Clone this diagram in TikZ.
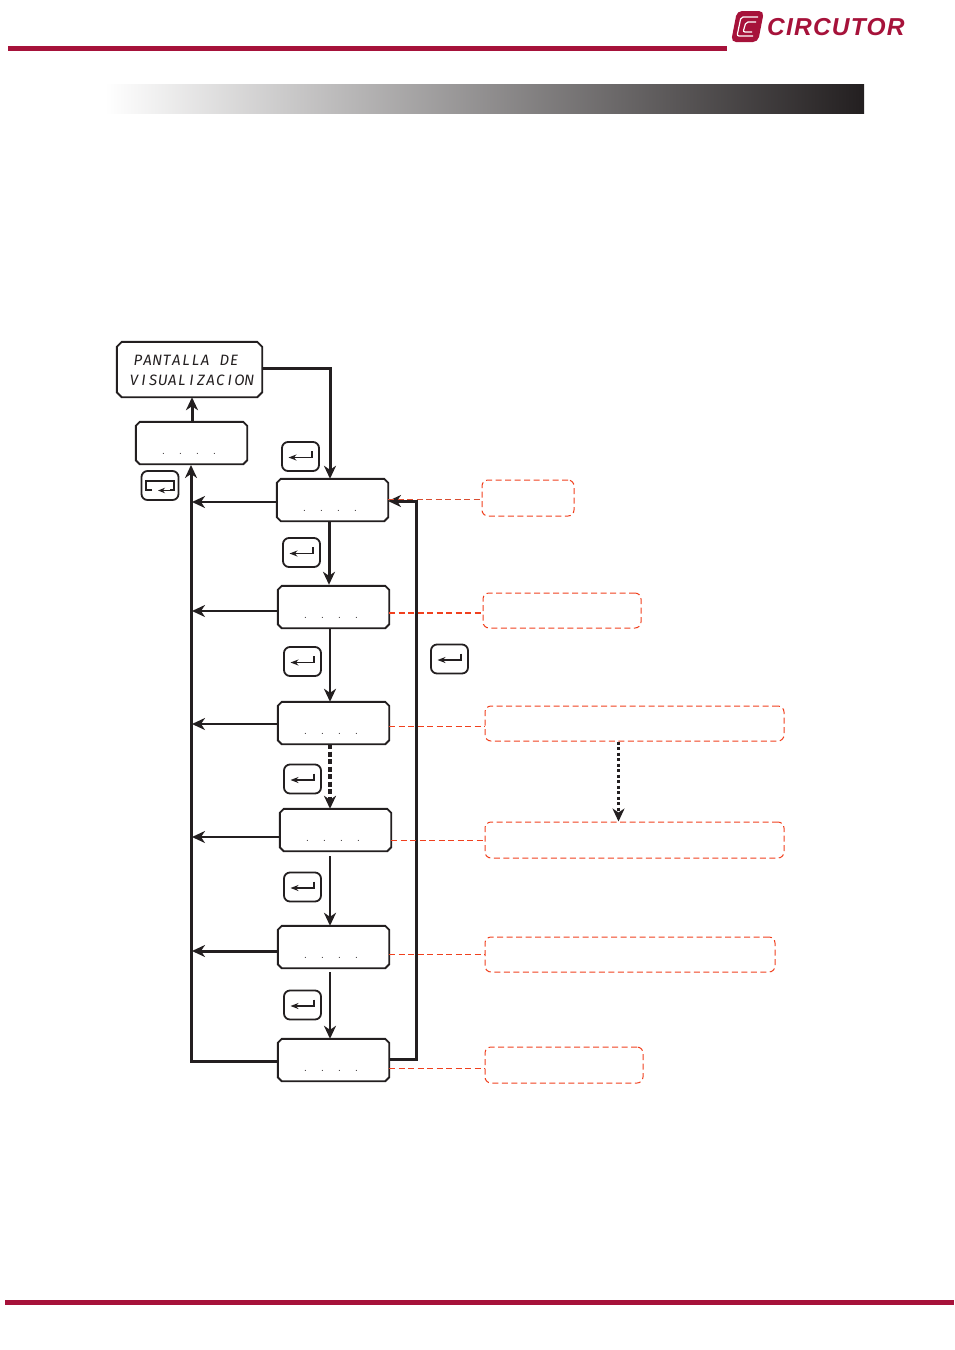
\documentclass[tikz,border=0pt]{standalone}
\usepackage{fontspec}
\setmainfont{Liberation Sans}
\newfontfamily\lcdfont{Fira Sans Italic}
\newfontfamily\logofont[LetterSpace=5]{Liberation Sans}
\usetikzlibrary{arrows.meta,calc}
\definecolor{brand}{HTML}{A6123A}
\definecolor{ink}{HTML}{231F20}
\definecolor{dash}{HTML}{F0401E}
\newcommand{\lc}[1]{\makebox[9.6pt]{#1}}
\tikzset{
  x=1pt,y=-1pt,
  tip/.style={-{Stealth[length=13pt,width=12pt,inset=4pt]}},
  dbox/.style={inner sep=0pt,minimum width=111pt,minimum height=42pt},
  keybox/.style={draw=ink,line width=1.8pt,fill=white,rounded corners=6pt,inner sep=0pt,minimum width=37pt,minimum height=29pt},
  redbox/.style={draw=dash,line width=1pt,dash pattern=on 6pt off 3.5pt,rounded corners=6pt,inner sep=0pt},
  flow/.style={draw=ink,line width=3pt,tip},
  thinflow/.style={draw=ink,line width=2.2pt,tip},
  bus/.style={draw=ink,line width=3pt},
  link/.style={draw=dash,line width=1.2pt,dash pattern=on 6pt off 3.5pt},
  dots/.style={font=\fontsize{10}{10}\selectfont,text=ink!90,inner sep=0pt},
}
\newcommand{\chamf}[2]{%
  \draw[ink,line width=1.9pt,fill=white]
    ([xshift=#2pt]#1.north west) -- ([xshift=-#2pt]#1.north east) -- ([yshift=-#2pt]#1.north east)
    -- ([yshift=#2pt]#1.south east) -- ([xshift=-#2pt]#1.south east) -- ([xshift=#2pt]#1.south west)
    -- ([yshift=#2pt]#1.south west) -- ([yshift=-#2pt]#1.north west) -- cycle;
}
\newcommand{\dispbox}[3]{%
  \node[dbox] (#1) at (#2,#3) {};
  \chamf{#1}{4}
  \node[dots] (#1d) at (#2-2.5,#3+11) {.\hspace{14.2pt}.\hspace{14.2pt}.\hspace{14.2pt}.};
}
\newcommand{\enterkey}[3]{%
  \node[keybox] (#1) at (#2,#3) {};
  \draw[ink,line width=1.5pt,-{Stealth[length=8pt,width=6pt]}] (#2+11.5,#3-5.5) -- (#2+11.5,#3+1) -- (#2-12,#3+1);
}
\begin{document}
\begin{tikzpicture}
\useasboundingbox (0,0) rectangle (954,1350);
% header
\fill[brand] (8,46) rectangle (727,51);
\fill[brand] (5,1300) rectangle (954,1305);
\shade[left color=white,right color=ink,shading angle=90] (105,84) rectangle (864,113.5);
% logo
\fill[brand,rounded corners=5pt] (737,11) -- (764,11) -- (758,42) -- (731,42) -- cycle;
\draw[white,line width=1.2pt,rounded corners=2pt] (758,17) -- (741,17) -- (737,36) -- (753,36);
\draw[white,line width=1.2pt,rounded corners=2pt] (756,22) -- (746,22) -- (743,32) -- (752,32);
\node[anchor=west,inner sep=0pt,text=brand] (logo) at (767,27) {\logofont\bfseries\itshape\fontsize{24.5}{25}\selectfont CIRCUTOR};
% displays
\node[dbox,minimum width=145pt,minimum height=55pt] (P) at (189.5,369.5) {};
\chamf{P}{5}
\node[inner sep=0pt,text=ink,font=\lcdfont\fontsize{15}{15}\selectfont] (P1) at (186,360) {\lc{P}\lc{A}\lc{N}\lc{T}\lc{A}\lc{L}\lc{L}\lc{A}\lc{ }\lc{D}\lc{E}};
\node[inner sep=0pt,text=ink,font=\lcdfont\fontsize{15}{15}\selectfont] (P2) at (191.5,380) {\lc{V}\lc{I}\lc{S}\lc{U}\lc{A}\lc{L}\lc{I}\lc{Z}\lc{A}\lc{C}\lc{I}\lc{O}\lc{N}};
\dispbox{B}{191.5}{443}
\dispbox{A}{332.5}{500}
\dispbox{C}{333.5}{607}
\dispbox{D}{333.5}{723}
\dispbox{E}{335.5}{830}
\dispbox{F}{333.5}{947}
\dispbox{G}{333.5}{1060}
% keys
\enterkey{K}{300.5}{456.5}
\enterkey{L}{301.5}{552.5}
\enterkey{M}{302.5}{661.5}
\enterkey{N}{449.5}{659}
\enterkey{O}{302.5}{779}
\enterkey{Q}{302.5}{887}
\enterkey{S}{302.5}{1005}
\node[keybox] (T) at (160,485.5) {};
\draw[ink,line width=1.9pt] (152,490) -- (146,490) -- (146,481) -- (174,481) -- (174,490) -- (170,490);
\draw[ink,line width=1.4pt,-{Stealth[length=7pt,width=5.5pt]}] (170,490.5) -- (158,490.5);
% red boxes
\node[redbox,minimum width=92pt,minimum height=36pt] (R1) at (528,498) {};
\node[redbox,minimum width=158pt,minimum height=35pt] (R2) at (562,610.5) {};
\node[redbox,minimum width=299pt,minimum height=35pt] (R3) at (634.5,723.5) {};
\node[redbox,minimum width=299pt,minimum height=36pt] (R4) at (634.5,840) {};
\node[redbox,minimum width=290pt,minimum height=35pt] (R5) at (630,954.5) {};
\node[redbox,minimum width=158pt,minimum height=36pt] (R6) at (564,1065) {};
% bus coordinates
\coordinate (busBot) at (191,1061);
\coordinate (busTop) at (191,465);
\coordinate (busR) at (416,1059);
\coordinate (aE) at (388,501);
\coordinate (pTurn) at (330,368);
\coordinate (pOut) at (262,368);
\coordinate (gE) at (389,1059);
% main connectors
\draw[flow] (pOut) -- (pTurn) -- (pTurn |- A.north);
\draw[flow] ([xshift=0.5pt]B.north) -- ([xshift=0.5pt]B.north |- P.south);
\draw[flow] ([xshift=-3.5pt]A.south) -- ([xshift=-4.5pt,yshift=1pt]C.north);
\draw[thinflow] ([xshift=-3.5pt]C.south) -- ([xshift=-3.5pt]D.north);
\draw[flow,dash pattern=on 5pt off 2.5pt,line width=3.2pt] ([xshift=-3.5pt]D.south) -- ([xshift=-5.5pt]E.north);
\draw[thinflow] ([xshift=-5.5pt,yshift=-5pt]E.south) -- ([xshift=-3.5pt]F.north);
\draw[thinflow] ([xshift=-3.5pt,yshift=-4pt]F.south) -- ([xshift=-3.5pt]G.north);
% bus left
\draw[bus,tip] ([yshift=-1pt]G.west) -- (busBot) -- (busTop);
\draw[thinflow] ([yshift=-2pt]A.west) -- ([yshift=-2pt,xshift=1pt]A.west -| busBot);
\draw[thinflow] ([yshift=-4pt]C.west) -- ([yshift=-4pt,xshift=1pt]C.west -| busBot);
\draw[thinflow] ([yshift=-1pt]D.west) -- ([yshift=-1pt,xshift=1pt]D.west -| busBot);
\draw[thinflow] ([yshift=-7pt]E.west) -- ([yshift=-7pt,xshift=1pt]E.west -| busBot);
\draw[flow] ([yshift=-4pt]F.west) -- ([yshift=-4pt,xshift=1pt]F.west -| busBot);
% bus right
\draw[bus,tip] (gE) -- (busR) -- (busR |- aE) -- (aE);
% red links
\draw[link,draw=dash!80!gray,line width=1pt] ([yshift=0.5pt]A.east) -- ([yshift=0.5pt]A.east -| R1.west);
\draw[link,line width=2pt] ([yshift=-5.5pt]C.east) -- ([yshift=-5.5pt]C.east -| R2.west);
\draw[link] ([yshift=-3.5pt]D.east) -- ([yshift=-3.5pt]D.east -| R3.west);
\draw[link] ([yshift=-10.5pt]E.east) -- ([yshift=-10.5pt]E.east -| R4.west);
\draw[link] ([yshift=-7.5pt]F.east) -- ([yshift=-7.5pt]F.east -| R5.west);
\draw[link] ([yshift=-8.5pt]G.east) -- ([yshift=-8.5pt]G.east -| R6.west);
% dotted between notes
\draw[draw=ink,line width=3pt,dash pattern=on 3pt off 2.5pt,tip] ([xshift=-16pt]R3.south) -- ([xshift=-16pt]R4.north);
\end{tikzpicture}
\end{document}
